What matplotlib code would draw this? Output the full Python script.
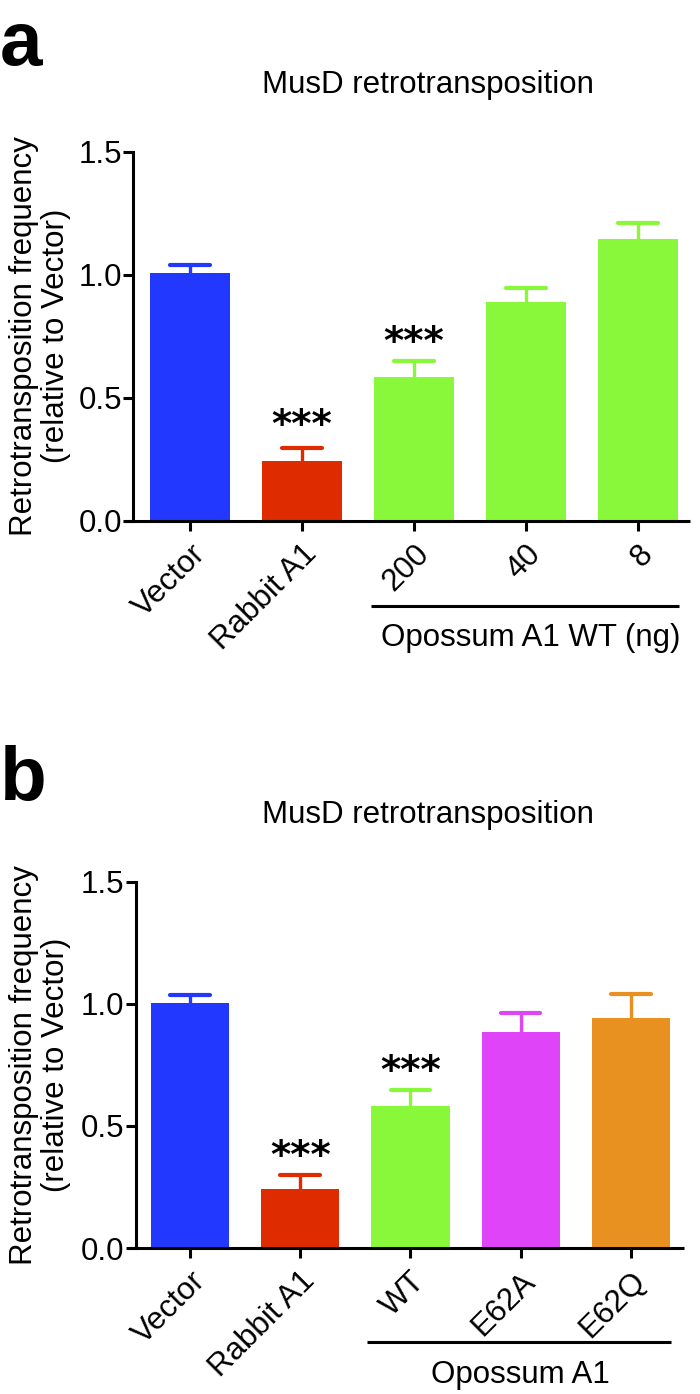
import matplotlib
matplotlib.use("Agg")
import matplotlib.pyplot as plt
from matplotlib.transforms import blended_transform_factory, ScaledTranslation

# ---- data ----
cats_a = ["Vector", "Rabbit A1", "200", "40", "8"]
vals_a = [1.005, 0.243, 0.583, 0.888, 1.143]
errs_a = [0.035, 0.054, 0.067, 0.057, 0.065]
colors_a = ["#2338FF", "#DE2C00", "#89F83A", "#89F83A", "#89F83A"]
stars_a = ["", "***", "***", "", ""]
star_y_a = [None, 0.425, 0.762, None, None]
group_a = "Opossum A1 WT (ng)"

cats_b = ["Vector", "Rabbit A1", "WT", "E62A", "E62Q"]
vals_b = [1.004, 0.243, 0.580, 0.885, 0.943]
errs_b = [0.034, 0.054, 0.069, 0.078, 0.096]
colors_b = ["#2338FF", "#DE2C00", "#89F83A", "#E044F8", "#E89121"]
stars_b = ["", "***", "***", "", ""]
star_y_b = [None, 0.413, 0.761, None, None]
group_b = "Opossum A1"

yticks = [0.0, 0.5, 1.0, 1.5]
title = "MusD retrotransposition"
ylabel = "Retrotransposition frequency\n(relative to Vector)"

plt.rcParams['font.family'] = ['Liberation Sans', 'DejaVu Sans']
FS = 22.5
LW = 2.2

W, H = 700, 1394
fig = plt.figure(figsize=(W / 100, H / 100), dpi=100)


def panel(rect, cats, vals, errs, colors, stars, star_y, xlim, group,
          bracket, group_x, bracket_y, group_y):
    ax = fig.add_axes(rect)
    x = list(range(len(cats)))
    ax.bar(x, vals, width=0.71, color=colors, edgecolor='none', zorder=2)
    tops = [v + e for v, e in zip(vals, errs)]
    ax.vlines(x, vals, tops, colors=colors, lw=2.4, zorder=1)
    ax.hlines(tops, [xi - 0.18 for xi in x], [xi + 0.18 for xi in x],
              colors=colors, lw=3.0, zorder=1, capstyle='round')
    for xi, s, sy in zip(x, stars, star_y):
        if s:
            ax.annotate(s, (xi, sy), xytext=(0, -15), textcoords='offset points',
                        ha='center', va='baseline', fontsize=28,
                        family='DejaVu Sans', fontweight='bold')
    ax.set_xlim(*xlim)
    ax.set_ylim(0, 1.5)
    ax.set_yticks(yticks)
    ax.set_yticklabels([f"{t:.1f}" for t in yticks], fontsize=FS)
    ax.set_xticks(x)
    ax.set_xticklabels(cats, rotation=45, ha='right', va='top',
                       rotation_mode='anchor', fontsize=FS)
    off = ScaledTranslation(-9 / 72, -5 / 72, fig.dpi_scale_trans)
    for lab in ax.get_xticklabels():
        lab.set_transform(lab.get_transform() + off)
    for s in ['top', 'right', 'bottom']:
        ax.spines[s].set_visible(False)
    ax.spines['left'].set_linewidth(LW)
    ax.tick_params(axis='both', length=7, width=LW, pad=1)
    ax.tick_params(axis='x', pad=6)
    dx = (xlim[1] - xlim[0]) * 8 / (rect[2] * W)
    ax.plot([xlim[0] - dx, xlim[1]], [0, 0], color='black', lw=LW,
            clip_on=False, solid_capstyle='butt', zorder=3)
    tr = blended_transform_factory(ax.transData, ax.transAxes)
    ax.plot(bracket, [bracket_y, bracket_y], color='black', lw=LW,
            transform=tr, clip_on=False, solid_capstyle='butt')
    ax.text(group_x, group_y, group, transform=tr, ha='center', va='center',
            fontsize=FS)
    return ax


def fy(px):
    return 1 - px / H


ax_a = panel([133 / W, fy(521), 557 / W, (521 - 151.5) / H],
             cats_a, vals_a, errs_a, colors_a, stars_a, star_y_a,
             (-0.509, 4.464), group_a, [1.616, 4.366], 3.04, -0.23, -0.317)
ax_b = panel([135.5 / W, fy(1248), 549 / W, (1248 - 881.7) / H],
             cats_b, vals_b, errs_b, colors_b, stars_b, star_y_b,
             (-0.4946, 4.487), group_b, [1.606, 4.365], 3.0, -0.256, -0.347)

for ax, yc in [(ax_a, 336), (ax_b, 1065)]:
    fig.text(40 / W, fy(yc), ylabel, rotation=90, ha='center', va='center',
             fontsize=FS, linespacing=1.12, multialignment='center')

fig.text(428 / W, fy(85), title, ha='center', va='center', fontsize=FS)
fig.text(428 / W, fy(815), title, ha='center', va='center', fontsize=FS)

fig.text(0.0 / W, fy(65), "a", ha='left', va='baseline', fontsize=55,
         fontweight='bold')
fig.text(0.0 / W, fy(800), "b", ha='left', va='baseline', fontsize=55,
         fontweight='bold')

fig.savefig("out.png", dpi=100)
